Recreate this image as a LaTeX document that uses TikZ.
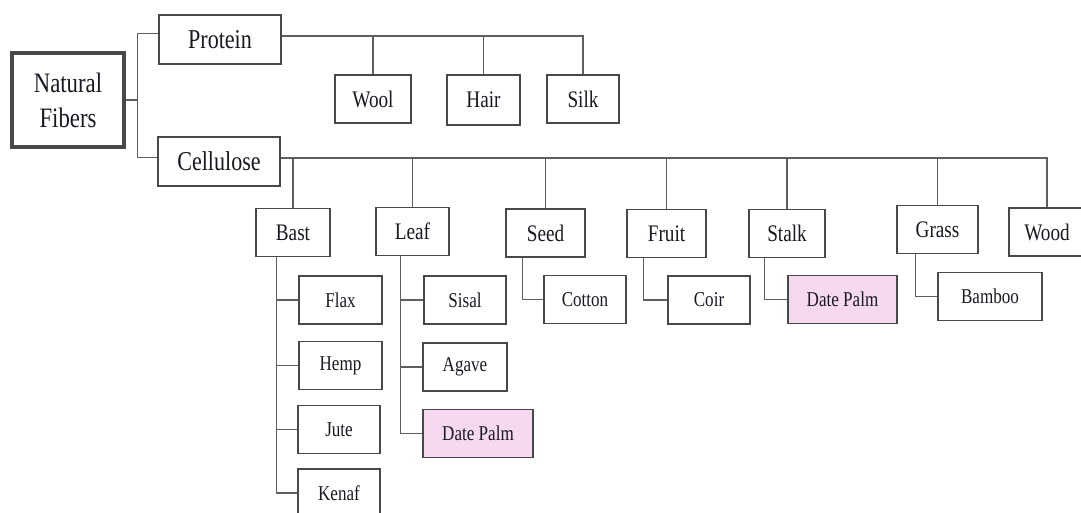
\documentclass[tikz,border=0pt]{standalone}
\usepackage{fontspec}
\setmainfont[FakeStretch=0.81]{Liberation Serif}
\usetikzlibrary{positioning,calc}
\definecolor{edge}{RGB}{72,72,72}
\definecolor{wire}{RGB}{95,95,95}
\definecolor{palm}{RGB}{246,216,240}
\definecolor{ink}{RGB}{25,25,35}

\begin{document}
\begin{tikzpicture}[x=0.02cm, y=-0.02cm, every node/.style={text=ink}]
    \tikzset{box/.style={rectangle, draw=edge, line width=0.8pt, fill=white, minimum width=#1*0.02cm, minimum height=0.96cm, inner sep=0pt, font=\fontsize{12}{14}\selectfont}}
    \tikzset{group/.style={box=#1, font=\fontsize{13.5}{15}\selectfont}}
    \tikzset{kind/.style={box=#1, minimum height=0.98cm, font=\fontsize{15.5}{17}\selectfont}}
    \tikzset{palmbox/.style={box=#1, fill=palm}}
    \tikzset{wire/.style={draw=wire, line width=0.8pt}}

    \useasboundingbox (0,0) rectangle (1081,512);
    \clip (0,0) rectangle (1081,512);

    \node [box=112, minimum height=1.88cm, line width=1.8pt, align=center, font=\fontsize{16}{20}\selectfont] (nat) at (68,100) {Natural\\Fibers};
    \node [kind=122] (prot) at (220,39.5) {Protein};
    \node [kind=122] (cell) at (219,161.5) {Cellulose};

    % protein fibers
    \node [group=76] (wool) at (373,99) {Wool};
    \node [group=73, minimum height=1cm] (hair) at (483.5,100) {Hair};
    \node [group=72] (silk) at (583,99) {Silk};

    % cellulose fibers
    \node [group=74] (bast) at (293,232.5) {Bast};
    \node [group=73] (leaf) at (412.5,231.5) {Leaf};
    \node [group=79] (seed) at (545.5,233) {Seed};
    \node [group=79] (fruit) at (666.5,233.5) {Fruit};
    \node [group=76] (stalk) at (787,233.5) {Stalk};
    \node [group=81] (grass) at (937.5,229.5) {Grass};
    \node [group=76] (wood) at (1047,232) {Wood};

    \node [box=83] (flax) at (340.5,300) {Flax};
    \node [box=83] (hemp) at (340.5,365.5) {Hemp};
    \node [box=82] (jute) at (339,429.5) {Jute};
    \node [box=82] (kenaf) at (339,493) {Kenaf};
    \node [box=82] (sisal) at (465,300) {Sisal};
    \node [box=84] (agave) at (465,367) {Agave};
    \node [palmbox=110] (palmA) at (478,433.5) {Date Palm};
    \node [box=82] (cotton) at (585,299.5) {Cotton};
    \node [box=82] (coir) at (709,300) {Coir};
    \node [palmbox=109] (palmB) at (842.5,299.5) {Date Palm};
    \node [box=104] (bamboo) at (990,296.5) {Bamboo};

    \coordinate (pbus) at ($(prot.east)+(0,-3.5)$);
    \coordinate (cbus) at ($(cell.east)+(0,-3.5)$);

    \draw [wire] (nat.east) -- ++(12,0) coordinate (fork);
    \draw [wire] ($(prot.west)+(0,-6)$) -| (fork) |- ($(cell.west)+(0,-4)$);

    \draw [wire] (pbus) -| (silk.north);
    \foreach \n in {wool,hair}
        \draw [wire] (\n.north) -- (\n.north |- pbus);

    \draw [wire] (cbus) -| (wood.north);
    \foreach \n in {bast,leaf,seed,fruit,stalk,grass}
        \draw [wire] (\n.north) -- (\n.north |- cbus);

    \draw [wire] ($(bast.south west)+(21,0)$) coordinate (b) |- (kenaf.west);
    \foreach \n in {flax,hemp,jute}
        \draw [wire] (b |- \n.west) -- (\n.west);
    \draw [wire] ($(leaf.south west)+(25,0)$) coordinate (l) |- (palmA.west);
    \foreach \n in {sisal,agave}
        \draw [wire] (l |- \n.west) -- (\n.west);
    \draw [wire] ($(seed.south west)+(17,0)$) |- (cotton.west);
    \draw [wire] ($(fruit.south west)+(17,0)$) |- (coir.west);
    \draw [wire] ($(stalk.south west)+(16,0)$) |- (palmB.west);
    \draw [wire] ($(grass.south west)+(19,0)$) |- (bamboo.west);
\end{tikzpicture}
\end{document}
